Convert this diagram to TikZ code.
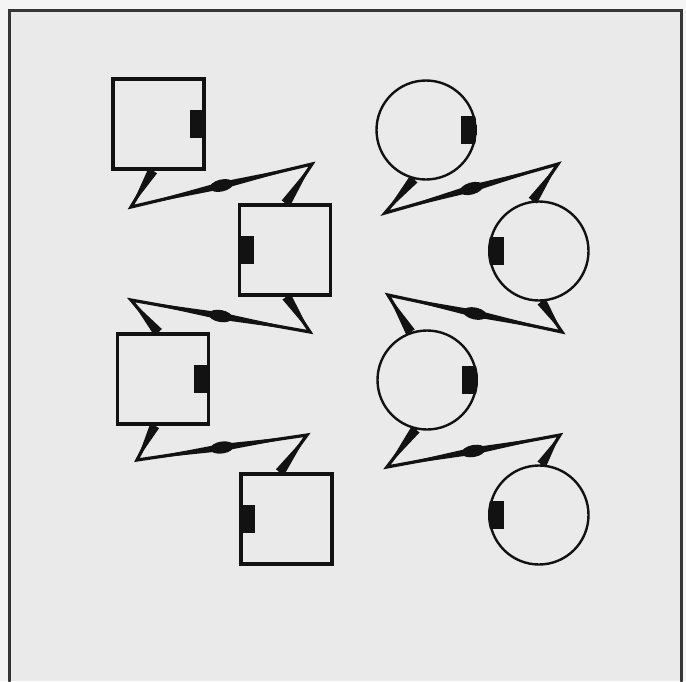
\documentclass[tikz,border=0pt]{standalone}
\usetikzlibrary{calc,shapes.geometric}
\definecolor{papergray}{RGB}{244,244,244}
\definecolor{scangray}{RGB}{234,234,234}
\definecolor{inkblack}{RGB}{18,18,18}
\tikzset{
  box/.style={draw=inkblack,line width=3.4pt,
    minimum width=91pt,minimum height=90pt,inner sep=0pt},
  disc/.style={circle,draw=inkblack,line width=2.4pt,
    minimum size=99pt,inner sep=0pt},
  blob/.style={ellipse,fill=inkblack,minimum width=24pt,minimum height=12pt,inner sep=0pt},
}
% zigzag link: #1 and #4 on the shapes, #2 and #3 the bends
\newcommand{\bolt}[4]{%
  \fill[inkblack] ($(#1)!5pt!90:(#2)$) -- (#2) -- ($(#1)!5pt!-90:(#2)$) -- cycle;
  \fill[inkblack] ($(#4)!5pt!90:(#3)$) -- (#3) -- ($(#4)!5pt!-90:(#3)$) -- cycle;
  \coordinate (mid) at ($(#2)!.5!(#3)$);
  \fill[inkblack] (#2) -- ($(mid)!3.6pt!90:(#3)$) -- (#3)
    -- ($(mid)!3.6pt!-90:(#3)$) -- cycle;
  \draw[inkblack,line width=3.2pt,line join=miter] (#1) -- (#2) -- (#3) -- (#4);
  \path (#2) -- (#3) node[blob,midway,sloped] {};
}

\begin{document}
\begin{tikzpicture}[x=1pt,y=-1pt,line cap=round]
 \useasboundingbox (0,0) rectangle (686,681);
 \fill[papergray] (0,0) rectangle (686,681);
 \fill[scangray] (9,10) rectangle (681,681);
 \draw[inkblack!85,line width=3pt] (9,681) -- (9,10) -- (681,10) -- (681,681);

 % square stations
 \node[box] (sq1) at (158.5,124) {};
 \node[box] (sq2) at (285,250) {};
 \node[box] (sq3) at (163,379) {};
 \node[box] (sq4) at (286.5,519) {};
 \foreach \s/\a/\d in {sq1/east/-16,sq2/west/16,sq3/east/-16,sq4/west/16}{
  \fill[inkblack] (\s.\a) ++(0,-14) rectangle ++(\d,28);
 }

 % round stations
 \node[disc] (ci1) at (426,130) {};
 \node[disc] (ci2) at (539,251) {};
 \node[disc] (ci3) at (427,380) {};
 \node[disc] (ci4) at (539,515) {};
 \foreach \s/\a/\d in {ci1/east/-16,ci2/west/16,ci3/east/-16,ci4/west/16}{
  \begin{scope}
   \clip (\s.center) circle[radius=51pt];
   \fill[inkblack] (\s.\a) ++(0,-14) rectangle ++(\d,28);
  \end{scope}
 }

 % bends of the links
 \coordinate (s1a) at (131,207);
 \coordinate (s1b) at (312,164);
 \coordinate (s2a) at (310,332);
 \coordinate (s2b) at (131,300);
 \coordinate (s3a) at (137,460);
 \coordinate (s3b) at (307,435);
 \coordinate (c1a) at (385,213);
 \coordinate (c1b) at (558,164);
 \coordinate (c2a) at (562,332);
 \coordinate (c2b) at (388,295);
 \coordinate (c3a) at (387,467);
 \coordinate (c3b) at (560,435);

 \bolt{sq1.263}{s1a}{s1b}{sq2.89}
 \bolt{sq2.272}{s2a}{s2b}{sq3.96}
 \bolt{sq3.260}{s3a}{s3b}{sq4.98}
 \bolt{ci1.256}{c1a}{c1b}{ci2.97}
 \bolt{ci2.273}{c2a}{c2b}{ci3.109}
 \bolt{ci3.257}{c3a}{c3b}{ci4.87}
\end{tikzpicture}
\end{document}
